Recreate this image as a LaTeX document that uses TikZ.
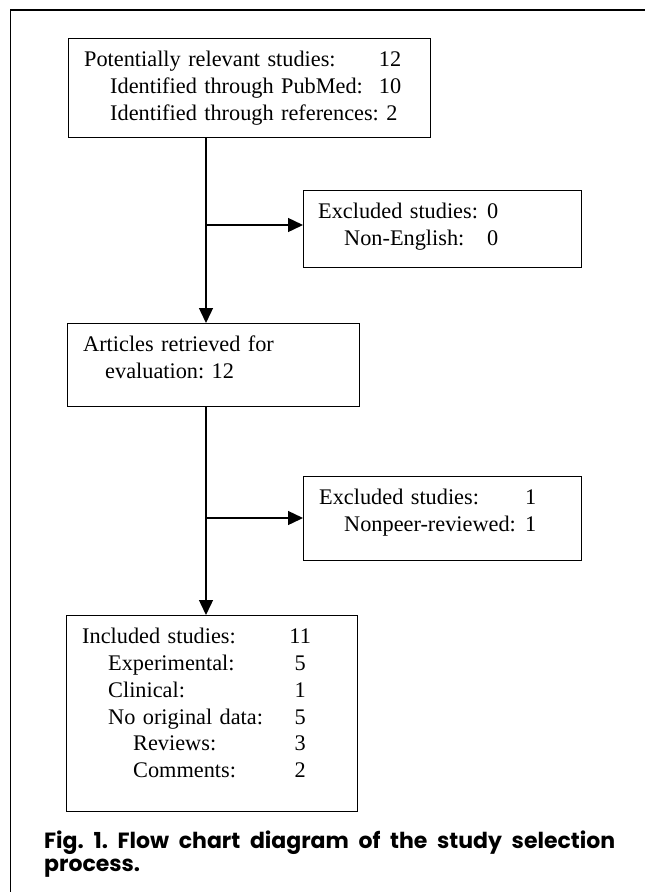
\documentclass[tikz,border=0pt]{standalone}
\usepackage{fontspec}
\setmainfont{Liberation Serif}
\newfontfamily\capfont{Poppins}
\usetikzlibrary{arrows.meta,positioning}
\frenchspacing
\newcommand{\cnt}[1]{\hfill\makebox[20pt]{#1}}

\begin{document}
\begin{tikzpicture}[x=1pt,y=1pt,
    box/.style={draw,line width=1.4pt,anchor=north west,inner sep=0pt},
    txt/.style={anchor=north west,inner sep=0pt,align=left,font=\fontsize{22.3}{26.8}\selectfont},
    arr/.style={line width=1.4pt,-{Triangle[length=15pt,width=14pt]}}]
    \useasboundingbox (0,0) rectangle (645,-892);
    \draw[line width=1.2pt] (645,-10) -- (10.5,-10) -- (10.5,-892);

    \node[box,minimum width=362pt,minimum height=99pt] (pot) at (68,-38) {};
    \node[txt,text width=317pt,below right=13pt and 16pt of pot.north west] (pot-t)
        {Potentially relevant studies:\hfill 12\\
        \hspace*{26pt}Identified through PubMed:\hfill 10\\
        \hspace*{26pt}\makebox[0pt][l]{Identified through references: 2}};

    \node[box,minimum width=278pt,minimum height=77pt] (exc1) at (303,-190) {};
    \node[txt,text width=180pt,below right=13pt and 15pt of exc1.north west] (exc1-t)
        {Excluded studies:\hfill 0\\
        \hspace*{26pt}Non-English:\hfill 0};

    \node[box,minimum width=292pt,minimum height=83pt] (art) at (67,-323) {};
    \node[txt,text width=250pt,below right=13pt and 16pt of art.north west] (art-t)
        {Articles retrieved for\\
        \hspace*{22pt}evaluation: 12};

    \node[box,minimum width=278pt,minimum height=84pt] (exc2) at (303,-476) {};
    \node[txt,text width=217pt,below right=13pt and 16pt of exc2.north west] (exc2-t)
        {Excluded studies:\hfill 1\\
        \hspace*{25pt}Nonpeer-reviewed:\hfill 1};

    \node[box,minimum width=291pt,minimum height=196pt] (inc) at (66,-615) {};
    \node[txt,text width=228pt,below right=13pt and 16pt of inc.north west] (inc-t)
        {Included studies:\cnt{11}\\
        \hspace*{26pt}Experimental:\cnt{5}\\
        \hspace*{26pt}Clinical:\cnt{1}\\
        \hspace*{26pt}No original data:\cnt{5}\\
        \hspace*{51pt}Reviews:\cnt{3}\\
        \hspace*{51pt}Comments:\cnt{2}};

    \coordinate (sp1) at (206,-225);
    \coordinate (sp2) at (206,-518);
    \draw[arr] (pot.south -| sp1) -- (art.north -| sp1);
    \draw[arr] (sp1) -- (sp1 -| exc1.west);
    \draw[arr] (art.south -| sp2) -- (inc.north -| sp2);
    \draw[arr] (sp2) -- (sp2 -| exc2.west);

    \node[anchor=north west,inner sep=0pt,text width=571pt,align=justify,
        font=\capfont\bfseries\fontsize{22}{23}\selectfont] (cap) at (44,-831)
        {Fig. 1. Flow chart diagram of the study selection\linebreak process.};
\end{tikzpicture}
\end{document}
